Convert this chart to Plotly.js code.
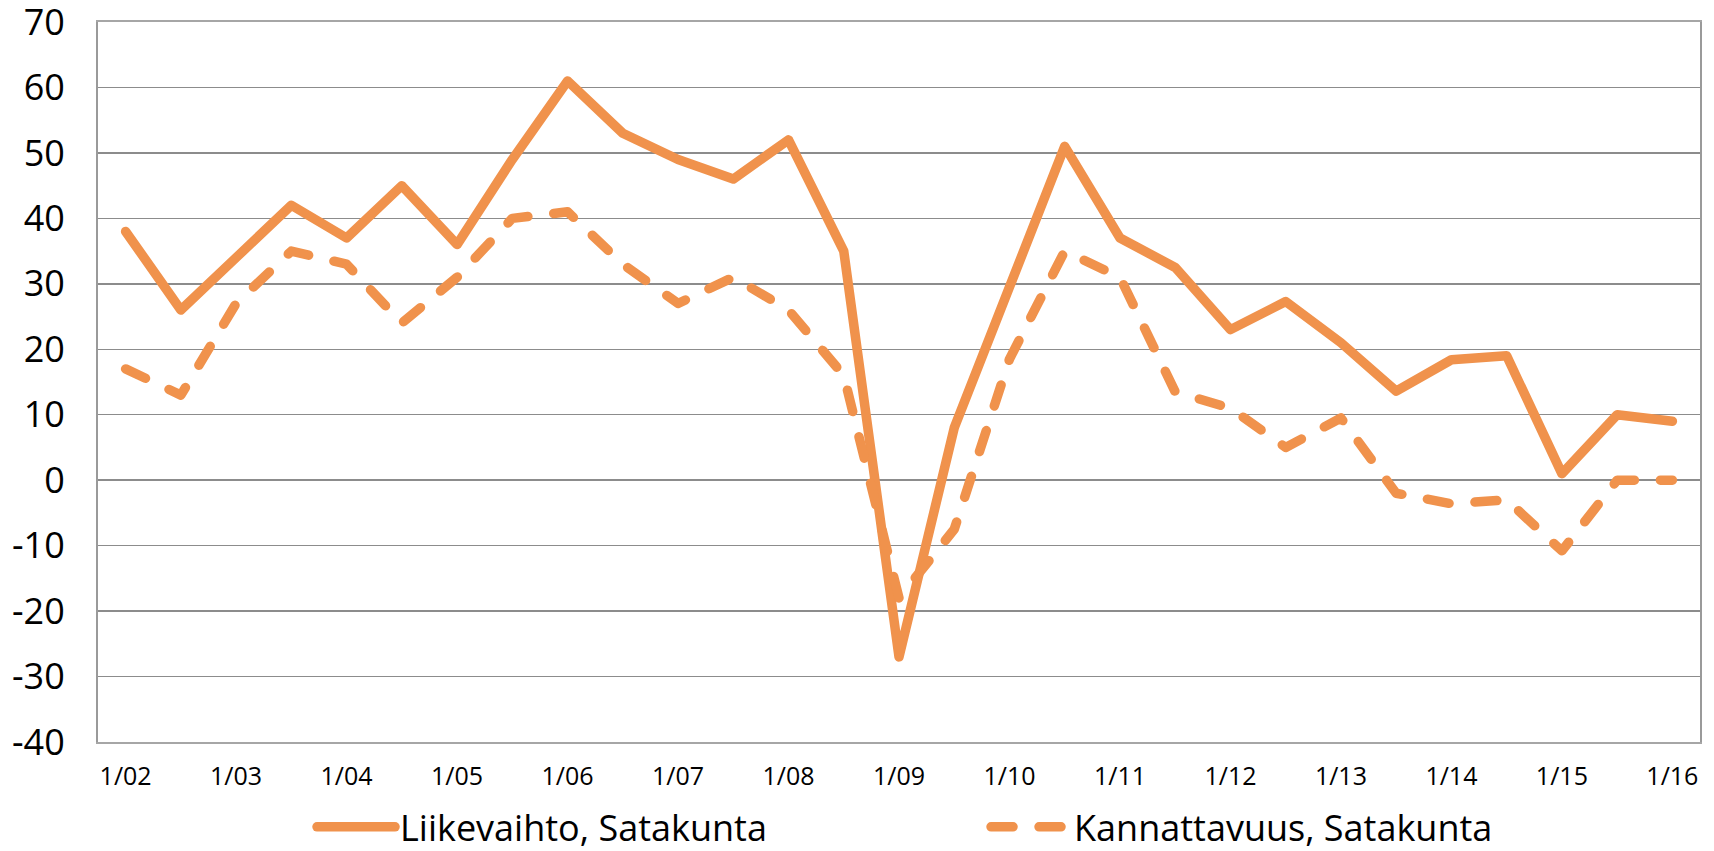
<!DOCTYPE html>
<html>
<head>
<meta charset="utf-8">
<script src="https://cdn.plot.ly/plotly-3.0.1.min.js"></script>
<style>
  html, body { margin: 0; padding: 0; background: #ffffff; }
  #chart { width: 1714px; height: 851px; }
  .js-line { stroke-linecap: round !important; stroke-linejoin: round !important; }
</style>
</head>
<body>
<div id="chart"></div>
<script>
// Half-year periods (only the "1/yy" ones are labelled on the axis)
const periods = [
  '1/02','2/02','1/03','2/03','1/04','2/04','1/05','2/05','1/06','2/06',
  '1/07','2/07','1/08','2/08','1/09','2/09','1/10','2/10','1/11','2/11',
  '1/12','2/12','1/13','2/13','1/14','2/14','1/15','2/15','1/16'
];
const xTickLabels = ['1/02','1/03','1/04','1/05','1/06','1/07','1/08','1/09','1/10','1/11','1/12','1/13','1/14','1/15','1/16'];

const liikevaihto = [38, 26, 34, 42, 37, 45, 36, 49, 61, 53, 49, 46, 52, 35, -27, 8, 29.5, 51, 37, 32.5, 23, 27.3, 21, 13.6, 18.4, 19, 1, 10, 9];
const kannattavuus = [17, 13, 27, 35, 33, 24, 31, 40, 41, 33, 27, 31, 26, 16, -18, -7.5, 18.5, 35, 31, 13.5, 11, 5, 9.5, -2, -3.6, -3, -10.8, 0, 0];

const yTickVals = [-40, -30, -20, -10, 0, 10, 20, 30, 40, 50, 60, 70];
const yTickLabels = ['-40', '-30', '-20', '-10', '0', '10', '20', '30', '40', '50', '60', '70'];

const seriesNames = ['Liikevaihto, Satakunta', 'Kannattavuus, Satakunta'];

const ORANGE = '#F0924C';
const FONT = '"Open Sans", "Noto Sans", sans-serif';

const traces = [
  {
    x: periods, y: liikevaihto, name: seriesNames[0], type: 'scatter', mode: 'lines',
    line: { color: ORANGE, width: 9.5, dash: 'solid' }, hoverinfo: 'skip'
  },
  {
    x: periods, y: kannattavuus, name: seriesNames[1], type: 'scatter', mode: 'lines',
    line: { color: ORANGE, width: 9.5, dash: '22px,26px' }, hoverinfo: 'skip'
  }
];

const layout = {
  width: 1714, height: 851,
  margin: { l: 98, r: 14, t: 22, b: 109, pad: 0, autoexpand: false },
  paper_bgcolor: '#ffffff', plot_bgcolor: '#ffffff',
  font: { family: FONT, color: '#000000' },
  showlegend: true,
  legend: {
    orientation: 'h', x: 0.1336, xanchor: 'left', y: -0.118, yanchor: 'middle',
    font: { family: FONT, size: 36, color: '#000000' },
    itemwidth: 78, entrywidth: 581, entrywidthmode: 'pixels',
    bgcolor: 'rgba(0,0,0,0)', traceorder: 'normal'
  },
  xaxis: {
    type: 'category', categoryorder: 'array', categoryarray: periods,
    range: [-0.5, periods.length - 0.5],
    tickmode: 'array', tickvals: xTickLabels, ticktext: xTickLabels,
    showgrid: false, zeroline: false,
    showline: true, linecolor: '#A6A6A6', linewidth: 2, mirror: true,
    ticks: '', ticklabelstandoff: 11, ticklabeloverflow: 'allow',
    tickfont: { family: FONT, size: 25, color: '#000000' },
    fixedrange: true
  },
  yaxis: {
    range: [-40, 70], tickmode: 'array', tickvals: yTickVals, ticktext: yTickLabels,
    showgrid: true, gridcolor: '#8C8C8C', gridwidth: 1.5, zeroline: false,
    showline: true, linecolor: '#9A9A9A', linewidth: 2, mirror: true,
    ticks: '', ticklabelstandoff: 24, ticklabeloverflow: 'allow',
    tickfont: { family: FONT, size: 36, color: '#000000' },
    fixedrange: true
  }
};

Plotly.newPlot('chart', traces, layout, { displayModeBar: false, staticPlot: true });
</script>
</body>
</html>
